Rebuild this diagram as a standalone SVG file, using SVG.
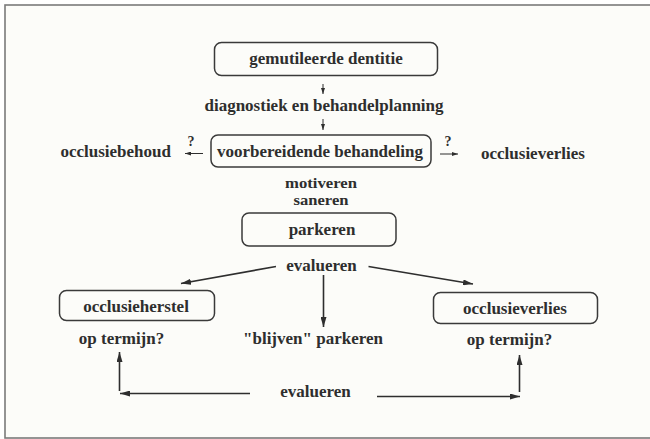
<svg xmlns="http://www.w3.org/2000/svg" width="650" height="439" viewBox="0 0 650 439">
<style>
text{font-family:"Liberation Serif","Times New Roman","DejaVu Serif",serif;font-weight:700;font-size:17px;fill:#2e2e2e;text-anchor:middle}
.box{fill:none;stroke:#3a3a3a;stroke-width:1.5}
.ln{fill:none;stroke:#2e2e2e;stroke-width:1.6}
.sm{fill:none;stroke:#2e2e2e;stroke-width:1}
.st{font-size:15px}
</style>
<defs>
<marker id="ah" markerUnits="userSpaceOnUse" viewBox="0 0 10 6" refX="10" refY="3" markerWidth="10" markerHeight="6" orient="auto"><path d="M0,0 L10,3 L0,6 z" fill="#2e2e2e"/></marker>
<marker id="as" markerUnits="userSpaceOnUse" viewBox="0 0 6 4" refX="6" refY="2" markerWidth="6" markerHeight="4" orient="auto"><path d="M0,0 L6,2 L0,4 z" fill="#2e2e2e"/></marker>
</defs>
<rect x="0" y="0" width="650" height="439" fill="#ffffff"/>
<rect x="5" y="5" width="660" height="433" fill="#fcfcf9" stroke="#7a7a7a" stroke-width="1.6"/>

<g font-family="Liberation Serif, Times New Roman, serif" font-weight="bold">
<g id="n-gemutileerde">
<rect class="box" x="214.5" y="42.5" width="223" height="33" rx="7"/>
<text x="326" y="64">gemutileerde dentitie</text>
</g>
<g id="n-diagnostiek"><text x="324" y="111">diagnostiek en behandelplanning</text></g>
<g id="n-voorbereidende">
<rect class="box" x="211" y="135" width="220" height="32" rx="7"/>
<text x="320" y="157">voorbereidende behandeling</text>
</g>
<g id="n-occlusiebehoud"><text x="171" y="157" style="text-anchor:end">occlusiebehoud</text></g>
<g id="n-occlusieverlies-top"><text x="481" y="159" style="text-anchor:start">occlusieverlies</text></g>
<g id="n-motiveren">
<text class="st" x="321" y="187.5" textLength="72" lengthAdjust="spacingAndGlyphs">motiveren</text>
<text class="st" x="321" y="204.5" textLength="55" lengthAdjust="spacingAndGlyphs">saneren</text>
</g>
<g id="n-parkeren">
<rect class="box" x="242" y="213" width="154" height="33" rx="7"/>
<text x="322" y="235">parkeren</text>
</g>
<g id="n-evalueren1"><text x="321.5" y="271">evalueren</text></g>
<g id="n-occlusieherstel">
<rect class="box" x="59.5" y="290.5" width="155" height="30" rx="7"/>
<text x="136" y="311.5">occlusieherstel</text>
</g>
<g id="n-occlusieverlies">
<rect class="box" x="433.5" y="292.5" width="164" height="31" rx="7"/>
<text x="515" y="314">occlusieverlies</text>
</g>
<g id="n-optermijn1"><text x="121.5" y="343.5">op termijn?</text></g>
<g id="n-blijven"><text x="313" y="344">"blijven" parkeren</text></g>
<g id="n-optermijn2"><text x="509.5" y="344.5">op termijn?</text></g>
<g id="n-evalueren2"><text x="315.5" y="397">evalueren</text></g>

<g id="connectors">
<line class="sm" x1="323" y1="84" x2="323" y2="94" marker-end="url(#as)"/>
<line class="sm" x1="323" y1="119" x2="323" y2="130" marker-end="url(#as)"/>
<line class="sm" x1="203" y1="153.5" x2="185" y2="153.5" marker-end="url(#as)"/>
<text x="191" y="146" style="font-size:14px">?</text>
<line class="sm" x1="440" y1="154" x2="458" y2="154" marker-end="url(#as)"/>
<text x="448" y="146" style="font-size:14px">?</text>
<line class="ln" x1="276" y1="266.5" x2="181" y2="283.5" marker-end="url(#ah)"/>
<line class="ln" x1="368.5" y1="266.5" x2="473" y2="284" marker-end="url(#ah)"/>
<line class="ln" x1="323.5" y1="275" x2="323.5" y2="327" marker-end="url(#ah)"/>
<line class="ln" x1="250" y1="393.5" x2="120" y2="393.5" marker-end="url(#ah)"/>
<line class="ln" x1="119.5" y1="391" x2="119.5" y2="352" marker-end="url(#ah)"/>
<line class="ln" x1="377" y1="396.5" x2="520" y2="396.5" marker-end="url(#ah)"/>
<line class="ln" x1="519.5" y1="392" x2="519.5" y2="355" marker-end="url(#ah)"/>
</g>
</g>
</svg>
